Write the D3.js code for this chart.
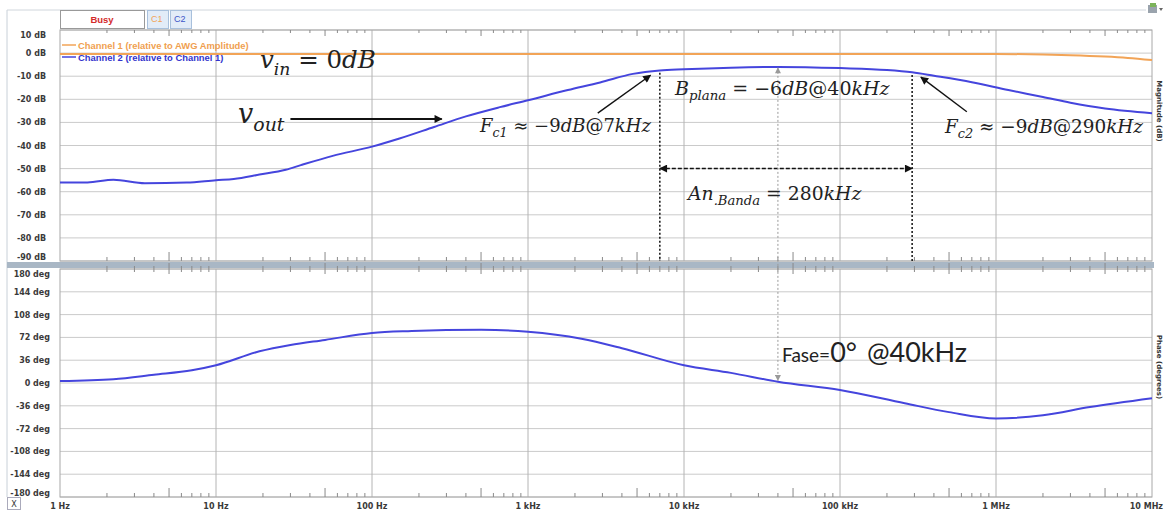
<!DOCTYPE html>
<html><head><meta charset="utf-8">
<script src="https://cdn.jsdelivr.net/npm/d3@7"></script>
<style>body{margin:0;background:#fff}svg{display:block}</style>
</head><body><svg id="c" width="1164" height="510"></svg>
<script>
// ---------- data ----------
const magFreq  = [1, 1.5, 2.2, 3.5, 6.5, 10, 13, 19, 28, 35, 56, 100, 150, 250, 400, 660, 1000, 1800, 2900, 4700, 7000, 10000, 20000, 40000, 100000, 200000, 290000, 400000, 700000, 1200000, 2000000, 3000000, 5000000, 10000000];
const ch2Mag   = [-56, -56, -54.8, -56.3, -56, -55, -54.5, -52.6, -50.5, -48.5, -44.5, -40.5, -37, -32, -27.4, -23.4, -20.4, -16, -12.7, -9, -7.5, -7, -6.3, -6, -6.5, -7.3, -8.3, -9.8, -12.6, -16, -19, -21.5, -24, -26];
const ch1Freq  = [1, 1000, 100000, 1000000, 2000000, 3000000, 5000000, 7000000, 10000000];
const ch1Mag   = [-0.4, -0.4, -0.4, -0.4, -0.6, -0.9, -1.5, -2.1, -3];
const phaseFreq = [1, 2.2, 4, 7, 10, 19, 30, 50, 100, 180, 500, 1000, 2200, 4000, 10000, 20000, 40000, 100000, 260000, 500000, 1000000, 2000000, 4000000, 10000000];
const ch2Phase  = [3, 6, 13, 20, 28, 50, 60, 68, 79, 82, 84, 81, 70, 55, 28, 16, 2, -11, -32, -46, -56, -51, -38, -24];
const magTicks = [10, 0, -10, -20, -30, -40, -50, -60, -70, -80, -90];
const magTickLabels = ["10 dB", "0 dB", "-10 dB", "-20 dB", "-30 dB", "-40 dB", "-50 dB", "-60 dB", "-70 dB", "-80 dB", "-90 dB"];
const phaseTicks = [180, 144, 108, 72, 36, 0, -36, -72, -108, -144, -180];
const phaseTickLabels = ["180 deg", "144 deg", "108 deg", "72 deg", "36 deg", "0 deg", "-36 deg", "-72 deg", "-108 deg", "-144 deg", "-180 deg"];
const freqTicks = [1, 10, 100, 1000, 10000, 100000, 1000000, 10000000];
const freqTickLabels = ["1 Hz", "10 Hz", "100 Hz", "1 kHz", "10 kHz", "100 kHz", "1 MHz", "10 MHz"];
const legendLabels = ["Channel 1 (relative to AWG Amplitude)", "Channel 2 (relative to Channel 1)"];

// ---------- layout ----------
const svg = d3.select('#c');
const L = 60, R = 1152;
const x = d3.scaleLog().domain([1, 1e7]).range([L, R]);
const yM = d3.scaleLinear().domain([10, -90]).range([30, 261]);
const yP = d3.scaleLinear().domain([180, -180]).range([269, 497]);
const ORANGE = '#f2a457', BLUE = '#4545dd', GRID = '#cacaca', VGRID = '#b4b4b4';

// frame
svg.append('line').attr('x1', 7).attr('x2', 7).attr('y1', 10).attr('y2', 497).attr('stroke', '#c8d0d8');
svg.append('line').attr('x1', 7).attr('x2', 1146).attr('y1', 10).attr('y2', 10).attr('stroke', '#d0d6dc');

// gridlines
function hgrid(ticks, y) {
  svg.append('g').selectAll('line').data(ticks).join('line')
    .attr('x1', L).attr('x2', R).attr('y1', d => y(d)).attr('y2', d => y(d))
    .attr('stroke', GRID).attr('stroke-width', 1);
}
hgrid(magTicks, yM); hgrid(phaseTicks, yP);
function vgrid(y0, y1) {
  svg.append('g').selectAll('line').data(freqTicks.slice(1, -1)).join('line')
    .attr('x1', d => x(d)).attr('x2', d => x(d)).attr('y1', y0).attr('y2', y1)
    .attr('stroke', VGRID).attr('stroke-width', 1);
}
vgrid(yM(10), yM(-90)); vgrid(yP(180), yP(-180));

// panel borders
[[yM(10), yM(-90)], [yP(180), yP(-180)]].forEach(([a, b]) => {
  svg.append('rect').attr('x', L).attr('y', a).attr('width', R - L).attr('height', b - a)
    .attr('fill', 'none').attr('stroke', '#a8a8a8');
});

// separator bar
svg.append('rect').attr('x', 7).attr('y', 262).attr('width', R - 7 + 2).attr('height', 6).attr('fill', '#a9b7c5');

// minor ticks
const minors = [];
freqTicks.slice(0, -1).forEach(d => { for (let m = 2; m <= 9; m++) minors.push({ f: d * m, m }); });
function minorTicks(y0, dir, s, l) {
  svg.append('g').selectAll('line').data(minors).join('line')
    .attr('x1', d => x(d.f)).attr('x2', d => x(d.f))
    .attr('y1', y0).attr('y2', d => y0 + dir * (d.m === 5 ? l : s))
    .attr('stroke', '#8a8a8a').attr('stroke-width', 1);
}
minorTicks(yM(10), 1, 3, 6);
minorTicks(yM(-90), -1, 4, 9);
minorTicks(yP(180), -1, 3, 6);
minorTicks(yP(180), 1, 3, 5);
minorTicks(yP(-180), -1, 4, 9);

// y tick labels
const tickFont = "'DejaVu Sans', sans-serif";
function ylabels(ticks, labels, y, top, bot, xr) {
  svg.append('g').selectAll('text').data(ticks).join('text')
    .attr('x', xr).attr('y', d => Math.max(top + 5, Math.min(bot - 4, y(d))) + 3)
    .attr('text-anchor', 'end').attr('font-family', tickFont).attr('font-weight', 'bold')
    .attr('font-size', 8).attr('fill', '#3a3a3a')
    .text((d, i) => labels[i]);
}
ylabels(magTicks, magTickLabels, yM, yM(10), yM(-90), 46);
ylabels(phaseTicks, phaseTickLabels, yP, yP(180), yP(-180), 50);

// x tick labels (last one kept inside the picture)
svg.append('g').selectAll('text').data(freqTicks).join('text')
  .attr('x', (d, i) => i === freqTicks.length - 1 ? 1163 : x(d)).attr('y', 509)
  .attr('text-anchor', (d, i) => i === freqTicks.length - 1 ? 'end' : 'middle')
  .attr('font-family', tickFont).attr('font-weight', 'bold').attr('font-size', 8).attr('fill', '#3a3a3a')
  .text((d, i) => freqTickLabels[i]);

// X box
svg.append('rect').attr('x', 7.5).attr('y', 497.5).attr('width', 13).attr('height', 12).attr('fill', '#fff').attr('stroke', '#aab');
svg.append('text').attr('x', 14).attr('y', 507).attr('text-anchor', 'middle').attr('font-family', tickFont)
  .attr('font-size', 8).attr('fill', '#333').text('X');

// right axis titles
[['Magnitude (dB)', 111], ['Phase (degrees)', 367]].forEach(([t, cy]) => {
  svg.append('text').attr('transform', `translate(1157,${cy}) rotate(90)`).attr('text-anchor', 'middle')
    .attr('font-family', tickFont).attr('font-weight', 'bold').attr('font-size', 7).attr('fill', '#333').text(t);
});

// top-right icon
svg.append('rect').attr('x', 1148).attr('y', 5).attr('width', 9).attr('height', 8).attr('fill', '#9aa3ad');
svg.append('rect').attr('x', 1150).attr('y', 3).attr('width', 6).attr('height', 4).attr('fill', '#7cb35a');
svg.append('path').attr('d', 'M1159,8 l4,0 l-2,3 z').attr('fill', '#666');

// Busy / C1 / C2 boxes
svg.append('rect').attr('x', 60.5).attr('y', 10.5).attr('width', 84).attr('height', 18).attr('fill', '#fff').attr('stroke', '#999');
svg.append('text').attr('x', 102).attr('y', 23).attr('text-anchor', 'middle').attr('font-family', "'Liberation Sans', Arial")
  .attr('font-weight', 'bold').attr('font-size', 9.5).attr('fill', '#d42a2a').text('Busy');
[[147, 'C1', ORANGE], [170, 'C2', '#3d55c8']].forEach(([bx, t, c]) => {
  svg.append('rect').attr('x', bx + 0.5).attr('y', 10.5).attr('width', 21).attr('height', 18).attr('fill', '#e2ecf8').attr('stroke', '#a8c0dc');
  svg.append('text').attr('x', bx + 4).attr('y', 22).attr('font-family', "'Liberation Sans', Arial")
    .attr('font-size', 9).attr('fill', c).text(t);
});

// legend
[[45, ORANGE, '#f0a050', 0], [57, BLUE, '#3333cc', 1]].forEach(([ly, c, tc, i]) => {
  svg.append('line').attr('x1', 62).attr('x2', 76).attr('y1', ly).attr('y2', ly).attr('stroke', c).attr('stroke-width', 1.5);
  svg.append('text').attr('x', 78).attr('y', ly + 3.5).attr('font-family', "'Liberation Sans', Arial")
    .attr('font-weight', 'bold').attr('font-size', 9.4).attr('fill', tc).text(legendLabels[i]);
});

// curves
const magLine = d3.line().x(d => x(d[0])).y(d => yM(d[1])).curve(d3.curveMonotoneX);
const phLine = d3.line().x(d => x(d[0])).y(d => yP(d[1])).curve(d3.curveMonotoneX);
svg.append('path').attr('d', magLine(d3.zip(ch1Freq, ch1Mag))).attr('fill', 'none').attr('stroke', ORANGE).attr('stroke-width', 2);
svg.append('path').attr('d', magLine(d3.zip(magFreq, ch2Mag))).attr('fill', 'none').attr('stroke', BLUE).attr('stroke-width', 2);
svg.append('path').attr('d', phLine(d3.zip(phaseFreq, ch2Phase))).attr('fill', 'none').attr('stroke', BLUE).attr('stroke-width', 2);

// ---------- annotations ----------
const defs = svg.append('defs');
function marker(id, color, w, h) {
  defs.append('marker').attr('id', id).attr('viewBox', '0 0 10 10').attr('refX', 9).attr('refY', 5)
    .attr('markerWidth', w).attr('markerHeight', h).attr('markerUnits', 'userSpaceOnUse').attr('orient', 'auto-start-reverse')
    .append('path').attr('d', 'M0,0 L10,5 L0,10 z').attr('fill', color);
}
marker('ab', '#111', 10, 8);
marker('ag', '#9a9a9a', 7, 6);
function seg(p, q, opts) {
  const l = svg.append('line').attr('x1', p[0]).attr('y1', p[1]).attr('x2', q[0]).attr('y2', q[1])
    .attr('stroke', opts.c || '#111').attr('stroke-width', opts.w || 1.6);
  if (opts.dash) l.attr('stroke-dasharray', opts.dash);
  if (opts.end) l.attr('marker-end', `url(#${opts.end})`);
  if (opts.start) l.attr('marker-start', `url(#${opts.start})`);
  return l;
}
const P = (f, db) => [x(f), yM(db)];
seg(P(7000, -8.5), P(7000, -90), { dash: '2,2', w: 1.5 });
seg(P(290000, -9.5), P(290000, -90), { dash: '2,2', w: 1.5 });
seg(P(7000, -50), P(290000, -50), { dash: '4,2', w: 1.5, start: 'ab', end: 'ab' });
seg([x(40000), yM(-6.4)], [x(40000), yP(4)], { dash: '2,2', w: 1, c: '#9a9a9a', start: 'ag', end: 'ag' });
seg(P(30, -28.5), P(280, -28.5), { w: 2, end: 'ab' });
seg(P(2800, -26), P(6100, -9.6), { w: 1.4, end: 'ab' });
seg(P(650000, -25.4), P(330000, -10.4), { w: 1.4, end: 'ab' });

// math-style text
const MF = "'DejaVu Serif', serif";
function mathText(px, py, size, parts) {
  const t = svg.append('text').attr('x', px).attr('y', py).attr('font-family', MF).attr('font-size', size).attr('fill', '#222');
  let sub = false;
  parts.forEach(([s, st]) => {
    const sp = t.append('tspan').text(s).attr('font-style', st === 'n' ? 'normal' : 'italic');
    if (st === 's') {
      sp.attr('font-size', size * 0.7);
      if (!sub) sp.attr('dy', size * 0.28);
      sub = true;
    } else if (sub) { sp.attr('dy', -size * 0.28); sub = false; }
  });
  t.attr('xml:space', 'preserve');
}
mathText(260, 68, 24.5, [['v', 'i'], ['in', 's'], [' = 0', 'n'], ['dB', 'i']]);
mathText(238, 123, 27, [['v', 'i'], ['out', 's']]);
mathText(480, 132, 18, [['F', 'i'], ['c1', 's'], [' ≈ −9', 'n'], ['dB', 'i'], ['@7', 'n'], ['kHz', 'i']]);
mathText(675, 95, 19, [['B', 'i'], ['plana', 's'], [' = −6', 'n'], ['dB', 'i'], ['@40', 'n'], ['kHz', 'i']]);
mathText(945, 133, 18.4, [['F', 'i'], ['c2', 's'], [' ≈ −9', 'n'], ['dB', 'i'], ['@290', 'n'], ['kHz', 'i']]);
mathText(688, 200, 18.8, [['An', 'i'], ['.Banda', 's'], [' = 280', 'n'], ['kHz', 'i']]);

// Fase text
const ft = svg.append('text').attr('x', 782).attr('y', 362).attr('font-family', "Lato, 'Open Sans', sans-serif").attr('fill', '#222');
ft.append('tspan').attr('font-size', 19).text('Fase=');
ft.append('tspan').attr('font-size', 27).text('0° ');
ft.append('tspan').attr('font-size', 27).attr('dx', 3).text('@40kHz');
</script></body></html>
